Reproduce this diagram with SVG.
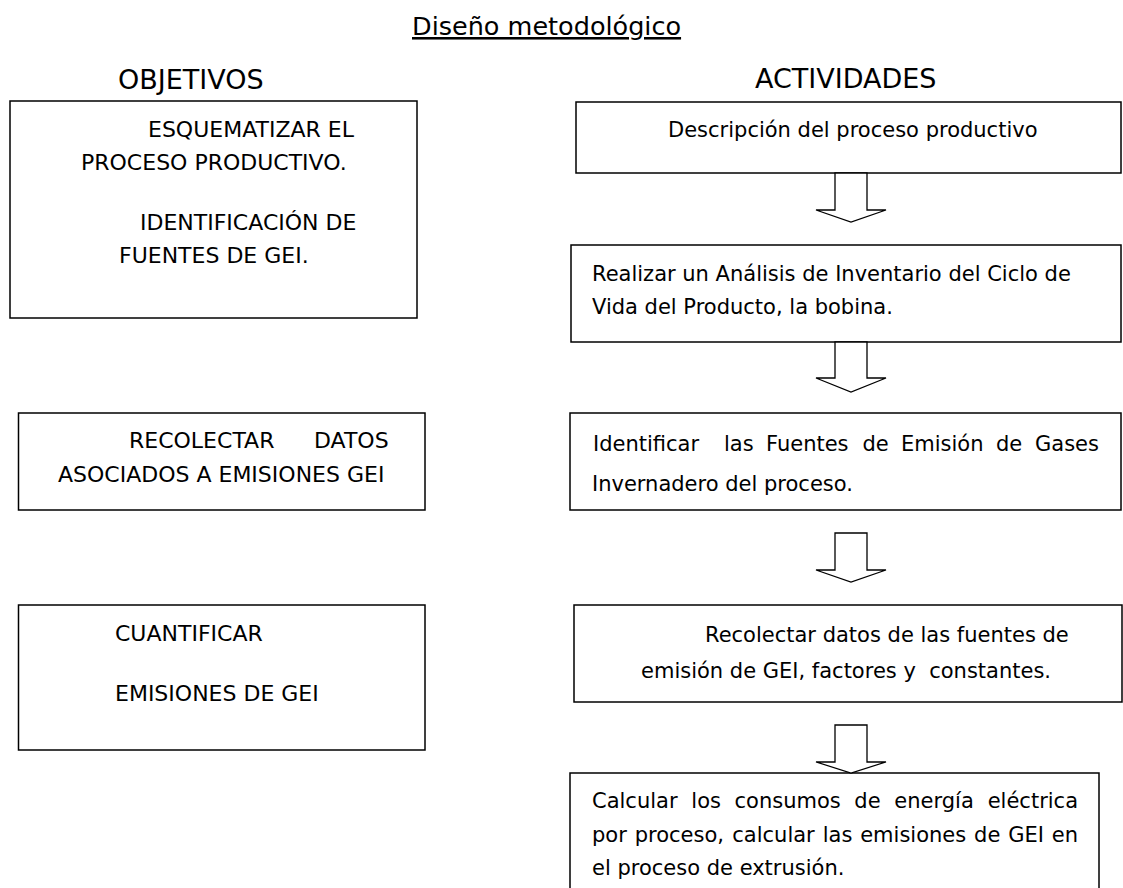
<svg xmlns="http://www.w3.org/2000/svg" width="1123" height="888" viewBox="0 0 1123 888">
<style>
  .box { fill: #fff; stroke: #000; stroke-width: 1.5; }
  .arr { fill: #fff; stroke: #000; stroke-width: 1.3; stroke-linejoin: miter; }
  text { font-family: "DejaVu Sans", "Liberation Sans", sans-serif; fill: #000; }
  .t { font-size: 25.5px; text-decoration: underline; }
  .h { font-size: 27px; }
  .b { font-size: 21px; }
  .bl { font-size: 22px; }
</style>
<rect width="1123" height="888" fill="#fff"/>

<g id="title">
  <text class="t" x="412" y="35">Diseño metodológico</text>
</g>
<g id="header-objetivos">
  <text class="h" x="118" y="89">OBJETIVOS</text>
</g>
<g id="header-actividades">
  <text class="h" x="755" y="88">ACTIVIDADES</text>
</g>

<g id="obj1">
  <rect class="box" x="10" y="101" width="407" height="217"/>
  <text class="bl" x="148" y="137">ESQUEMATIZAR EL</text>
  <text class="bl" x="81" y="170">PROCESO PRODUCTIVO.</text>
  <text class="bl" x="140" y="230">IDENTIFICACIÓN DE</text>
  <text class="bl" x="119" y="263">FUENTES DE GEI.</text>
</g>

<g id="obj2">
  <rect class="box" x="18.5" y="413" width="406.5" height="97"/>
  <text class="bl" y="448"><tspan x="129">RECOLECTAR</tspan><tspan x="314">DATOS</tspan></text>
  <text class="bl" x="58" y="482">ASOCIADOS A EMISIONES GEI</text>
</g>

<g id="obj3">
  <rect class="box" x="18.5" y="605" width="406.5" height="145"/>
  <text class="bl" x="115" y="641">CUANTIFICAR</text>
  <text class="bl" x="115" y="701">EMISIONES DE GEI</text>
</g>

<g id="act1">
  <rect class="box" x="576" y="102" width="545" height="71"/>
  <text class="b" x="668" y="137">Descripción del proceso productivo</text>
</g>

<g id="act2">
  <rect class="box" x="571" y="245" width="550" height="97"/>
  <text class="b" x="592" y="281">Realizar un Análisis de Inventario del Ciclo de</text>
  <text class="b" x="592" y="314">Vida del Producto, la bobina.</text>
</g>

<g id="act3">
  <rect class="box" x="570" y="413" width="551" height="97"/>
  <text class="b" y="451"><tspan x="593">Identificar</tspan><tspan x="724">las</tspan><tspan x="766">Fuentes</tspan><tspan x="862.5">de</tspan><tspan x="901">Emisión</tspan><tspan x="996">de</tspan><tspan x="1035">Gases</tspan></text>
  <text class="b" x="592" y="491">Invernadero del proceso.</text>
</g>

<g id="act4">
  <rect class="box" x="574" y="605" width="548" height="97"/>
  <text class="b" x="705" y="642">Recolectar datos de las fuentes de</text>
  <text class="b" x="641" y="678" xml:space="preserve">emisión de GEI, factores y  constantes.</text>
</g>

<g id="act5">
  <rect class="box" x="570" y="773" width="529" height="140"/>
  <text class="b" y="808"><tspan x="592">Calcular</tspan><tspan x="691.3">los</tspan><tspan x="734.5">consumos</tspan><tspan x="854.3">de</tspan><tspan x="894.3">energía</tspan><tspan x="987.7">eléctrica</tspan></text>
  <text class="b" y="842"><tspan x="592">por</tspan><tspan x="634.7">proceso,</tspan><tspan x="732.3">calcular</tspan><tspan x="822.7">las</tspan><tspan x="860.2">emisiones</tspan><tspan x="974.1">de</tspan><tspan x="1008.2">GEI</tspan><tspan x="1051.8">en</tspan></text>
  <text class="b" x="592" y="875">el proceso de extrusión.</text>
</g>

<g id="connectors">
  <polygon class="arr" points="835,173 867,173 867,210 886,210 851,222 816,210 835,210"/>
  <polygon class="arr" points="835,342 867,342 867,378 886,378 851,392 816,378 835,378"/>
  <polygon class="arr" points="835,533 867,533 867,570 886,570 851,582 816,570 835,570"/>
  <polygon class="arr" points="835,725 867,725 867,762 886,762 851,773 816,762 835,762"/>
</g>
</svg>
